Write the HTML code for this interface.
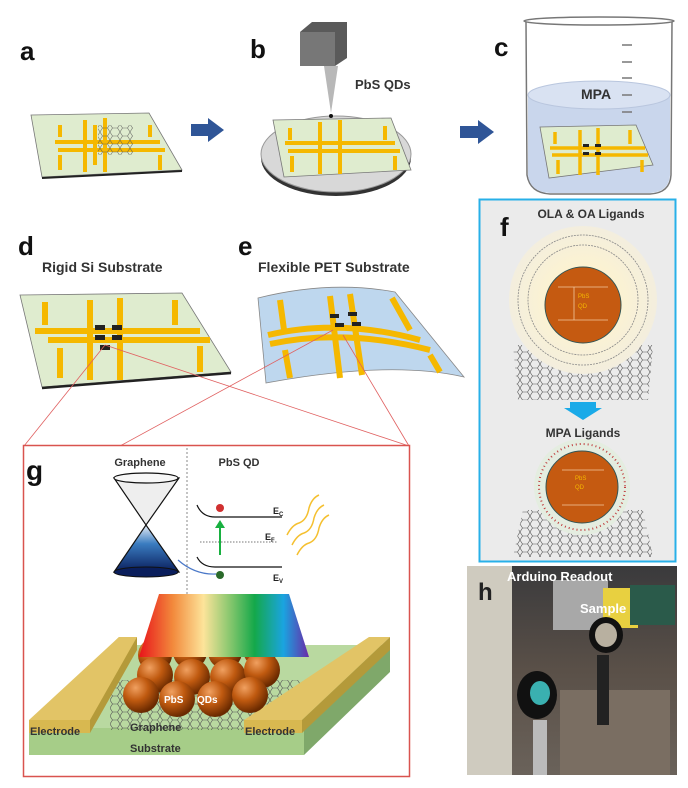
<!DOCTYPE html>
<html><head><meta charset="utf-8"><style>
html,body{margin:0;padding:0;background:#fff;}
svg{display:block;font-family:"Liberation Sans",sans-serif;}
</style></head><body>
<svg width="688" height="788" viewBox="0 0 688 788" xmlns="http://www.w3.org/2000/svg">
<defs>
<linearGradient id="rb" x1="0" x2="1"><stop offset="0" stop-color="#e8141a"/><stop offset="0.2" stop-color="#f28a3c"/><stop offset="0.38" stop-color="#fde49a"/><stop offset="0.55" stop-color="#7cc46a"/><stop offset="0.68" stop-color="#14a84a"/><stop offset="0.85" stop-color="#1aa4e0"/><stop offset="1" stop-color="#6a2aa8"/></linearGradient>
<linearGradient id="cone" x1="0" y1="0" x2="0" y2="1"><stop offset="0" stop-color="#e8eef6"/><stop offset="0.4" stop-color="#3a7cc0"/><stop offset="1" stop-color="#0a1e5c"/></linearGradient>
<radialGradient id="sph" cx="0.35" cy="0.3" r="0.7"><stop offset="0" stop-color="#f0a060"/><stop offset="0.5" stop-color="#c05a10"/><stop offset="1" stop-color="#6a2a00"/></radialGradient>
<radialGradient id="halo"><stop offset="0.4" stop-color="#fdf3d0"/><stop offset="1" stop-color="#f3eede"/></radialGradient>
<linearGradient id="photo" x1="0" y1="0" x2="0" y2="1"><stop offset="0" stop-color="#3a3a3c"/><stop offset="0.5" stop-color="#5a5048"/><stop offset="1" stop-color="#6a625a"/></linearGradient>
<pattern id="hex" width="10" height="8" patternUnits="userSpaceOnUse"><path d="M0,4 L2.5,0 L7.5,0 L10,4 L7.5,8 L2.5,8 Z" fill="none" stroke="#555" stroke-width="0.6"/></pattern>
<g id="elec" fill="#f5b800">
</g>
</defs>

<!-- labels -->
<g font-weight="bold" font-size="26" fill="#111">
<text x="20" y="60">a</text><text x="250" y="58">b</text><text x="494" y="56">c</text>
<text x="18" y="255">d</text><text x="238" y="255">e</text>
</g>

<!-- panel a -->
<polygon points="31,115 149,113 182,170 42,177" fill="#dfeccf" stroke="#777" stroke-width="0.8"/>
<line x1="42" y1="178" x2="182" y2="171" stroke="#222" stroke-width="2"/>
<g stroke="#f5b800" stroke-width="4" fill="none">
<path d="M55,142 H160 M58,150 H165"/>
<path d="M85,120 V172 M105,118 V172 M95,125 L95,165"/>
<path d="M60,125 V137 M150,125 V137 M60,155 V170 M160,155 V170"/>
</g>
<rect x="98" y="125" width="35" height="30" fill="url(#hex)" opacity="0.8"/>
<!-- arrows -->
<polygon points="191,124 208,124 208,118 224,130 208,142 208,136 191,136" fill="#2f5597"/>
<polygon points="460,126 478,126 478,120 494,132 478,144 478,138 460,138" fill="#2f5597"/>

<!-- panel b -->
<ellipse cx="336" cy="158" rx="75" ry="38" fill="#333"/>
<ellipse cx="336" cy="154" rx="75" ry="38" fill="#d8d8d8" stroke="#999"/>
<polygon points="273,120 391,118 411,170 284,177" fill="#dfeccf" stroke="#777" stroke-width="0.8"/>
<g stroke="#f5b800" stroke-width="4" fill="none">
<path d="M285,143 H395 M288,151 H400 M320,122 V174 M340,120 V174 M290,128 V140 M385,126 V140 M292,156 V172 M395,156 V170"/>
</g>
<polygon points="300,32 312,22 347,22 347,58 335,66 300,66" fill="#5a5a5a"/>
<polygon points="300,32 335,32 335,66 300,66" fill="#777"/>
<polygon points="324,66 338,66 331,113" fill="#b8b8b8"/>
<circle cx="331" cy="116" r="2" fill="#111"/>
<text x="355" y="89" font-size="13" font-weight="bold" fill="#333">PbS QDs</text>

<!-- panel c beaker -->
<path d="M526,22 L527,175 Q530,193 550,194 L650,194 Q670,193 671,175 L672,22" fill="none" stroke="#777" stroke-width="1.5"/>
<ellipse cx="599" cy="21" rx="75" ry="4" fill="none" stroke="#777" stroke-width="1.5"/>
<path d="M528,95 L528,175 Q530,192 550,193 L650,193 Q669,192 670,175 L670,95 Z" fill="#c9d6ec"/>
<ellipse cx="599" cy="95" rx="71" ry="14" fill="#d9e2f2" stroke="#b9c6de"/>
<g stroke="#777" stroke-width="1.5"><line x1="622" y1="45" x2="632" y2="45"/><line x1="622" y1="62" x2="632" y2="62"/><line x1="622" y1="78" x2="632" y2="78"/><line x1="622" y1="95" x2="632" y2="95"/><line x1="622" y1="112" x2="632" y2="112"/></g>
<text x="581" y="99" font-size="14" font-weight="bold" fill="#333">MPA</text>
<polygon points="540,127 636,125 653,165 549,178" fill="#dfeccf" stroke="#777" stroke-width="0.8"/>
<g stroke="#f5b800" stroke-width="3.5" fill="none"><path d="M550,148 H645 M552,155 H648 M580,130 V175 M598,128 V175 M555,132 V144 M630,130 V144 M558,160 V174 M642,160 V172"/></g>
<g fill="#222"><rect x="583" y="144" width="6" height="3"/><rect x="595" y="144" width="6" height="3"/><rect x="583" y="152" width="6" height="3"/><rect x="595" y="152" width="6" height="3"/></g>

<!-- d -->
<text x="42" y="272" font-size="14" font-weight="bold" fill="#333">Rigid Si Substrate</text>
<polygon points="20,295 182,293 231,372 42,387" fill="#dfeccf" stroke="#777" stroke-width="0.8"/>
<line x1="42" y1="388" x2="231" y2="373" stroke="#222" stroke-width="2.5"/>
<g stroke="#f5b800" stroke-width="6" fill="none">
<path d="M35,331 H200 M48,340 H210 M90,300 V380 M120,298 V380 M45,302 V325 M175,300 V325 M60,348 V378 M200,346 V372"/>
</g>
<g fill="#222"><rect x="95" y="325" width="10" height="5"/><rect x="112" y="325" width="10" height="5"/><rect x="95" y="335" width="10" height="5"/><rect x="112" y="335" width="10" height="5"/><rect x="100" y="345" width="10" height="5"/></g>

<!-- e -->
<text x="258" y="272" font-size="14" font-weight="bold" fill="#333">Flexible PET Substrate</text>
<path d="M258,298 Q330,280 395,292 L464,377 Q390,360 266,383 Z" fill="#bed7ee" stroke="#888" stroke-width="0.8"/>
<g stroke="#f5b800" stroke-width="6" fill="none">
<path d="M268,335 Q340,318 420,340 M270,344 Q345,328 430,350 M330,296 L340,378 M350,294 L362,375 M280,300 L284,330 M392,298 L410,330 M285,350 L290,378 M430,355 L440,372"/>
</g>
<g fill="#222"><rect x="330" y="314" width="9" height="4"/><rect x="348" y="312" width="9" height="4"/><rect x="335" y="323" width="9" height="4"/><rect x="352" y="322" width="9" height="4"/></g>

<!-- red zoom lines -->
<g stroke="#e06060" stroke-width="0.8">
<line x1="105" y1="345" x2="24" y2="446"/><line x1="105" y1="345" x2="409" y2="446"/>
<line x1="333" y1="330" x2="120" y2="446"/><line x1="343" y1="335" x2="409" y2="446"/>
</g>

<!-- g -->
<rect x="23.5" y="445.5" width="386" height="331" fill="#fff" stroke="#d9534f" stroke-width="1.5"/>
<text x="26" y="480" font-size="28" font-weight="bold" fill="#111">g</text>
<text x="140" y="466" font-size="11" font-weight="bold" fill="#333" text-anchor="middle">Graphene</text>
<text x="239" y="466" font-size="11" font-weight="bold" fill="#333" text-anchor="middle">PbS QD</text>
<line x1="187" y1="448" x2="187" y2="595" stroke="#888" stroke-dasharray="2,2"/>
<polygon points="114,478 179,478 146,525" fill="#eeeeee" stroke="#111" stroke-width="1.2"/>
<ellipse cx="146" cy="478" rx="32" ry="5" fill="#f7f7f7" stroke="#111" stroke-width="1.2"/>
<polygon points="146,525 114,572 179,572" fill="url(#cone)" stroke="#111" stroke-width="1.2"/>
<ellipse cx="146" cy="572" rx="32" ry="5" fill="#0a1e5c" stroke="#111"/>
<path d="M197,505 Q202,517 215,517 H282" fill="none" stroke="#111" stroke-width="1.2"/>
<path d="M197,557 Q202,567 215,567 H282" fill="none" stroke="#111" stroke-width="1.2"/>
<line x1="200" y1="542" x2="278" y2="542" stroke="#777" stroke-dasharray="1.5,1.5"/>
<circle cx="220" cy="508" r="4" fill="#d03030"/>
<circle cx="220" cy="575" r="4" fill="#2a6a2a"/>
<line x1="220" y1="555" x2="220" y2="526" stroke="#18b040" stroke-width="2"/>
<polygon points="215,528 225,528 220,520" fill="#18b040"/>
<path d="M216,574 Q195,575 178,560" fill="none" stroke="#4a78c8" stroke-width="1.2"/>
<g font-size="9" font-weight="bold" fill="#222"><text x="273" y="514">E<tspan font-size="6" dy="2">C</tspan></text><text x="265" y="540">E<tspan font-size="6" dy="2">F</tspan></text><text x="273" y="581">E<tspan font-size="6" dy="2">V</tspan></text></g>
<g fill="none" stroke="#f5c030" stroke-width="1.5"><path d="M287,535 q5,-10 12,-12 q8,-3 10,-15 q3,-10 10,-13"/><path d="M292,545 q5,-10 12,-12 q8,-3 10,-15 q3,-10 10,-13"/><path d="M297,555 q5,-10 12,-12 q8,-3 10,-15 q3,-10 10,-13"/></g>
<!-- substrate -->
<polygon points="29,728 304,728 390,645 119,645" fill="#b9d9a0"/>
<polygon points="29,728 304,728 304,755 29,755" fill="#a6cd88"/>
<polygon points="304,728 390,645 390,672 304,755" fill="#7fa86a"/>
<rect x="110" y="680" width="190" height="50" fill="url(#hex)"/>
<!-- electrodes -->
<polygon points="119,637 137,637 90,728 29,728 29,724 " fill="#dcbd5e"/>
<polygon points="119,637 137,637 90,720 29,720" fill="#e2c466"/>
<polygon points="90,720 137,637 137,650 90,733" fill="#b49a3a"/>
<rect x="29" y="720" width="61" height="13" fill="#d8b850"/>
<polygon points="369,637 390,637 302,720 244,720" fill="#e2c466"/>
<polygon points="302,720 390,637 390,650 302,733" fill="#b49a3a"/>
<rect x="244" y="720" width="58" height="13" fill="#d8b850"/>
<!-- spheres -->
<g fill="url(#sph)">
<circle cx="260" cy="650" r="17"/><circle cx="225" cy="652" r="17"/><circle cx="190" cy="652" r="17"/><circle cx="155" cy="655" r="17"/>
<circle cx="155" cy="675" r="18"/><circle cx="192" cy="677" r="18"/><circle cx="228" cy="677" r="18"/><circle cx="262" cy="670" r="18"/>
<circle cx="141" cy="695" r="18"/><circle cx="177" cy="699" r="18"/><circle cx="215" cy="699" r="18"/><circle cx="250" cy="695" r="18"/>
</g>
<text x="164" y="703" font-size="10" font-weight="bold" fill="#fff">PbS</text>
<text x="197" y="703" font-size="10" font-weight="bold" fill="#fff">QDs</text>
<polygon points="159,594 289,594 309,657 139,657" fill="url(#rb)"/>
<g font-size="11" font-weight="bold" fill="#333">
<text x="30" y="735">Electrode</text><text x="245" y="735">Electrode</text>
<text x="130" y="731">Graphene</text><text x="130" y="752">Substrate</text>
</g>

<!-- f -->
<rect x="479.5" y="199.5" width="196" height="362" fill="#ebebeb" stroke="#28b0e8" stroke-width="2"/>
<text x="500" y="236" font-size="26" font-weight="bold" fill="#111">f</text>
<text x="591" y="218" font-size="12" font-weight="bold" fill="#333" text-anchor="middle">OLA &amp; OA Ligands</text>
<polygon points="513,345 653,345 648,400 518,400" fill="url(#hex)"/>
<ellipse cx="583" cy="300" rx="74" ry="74" fill="url(#halo)"/>
<g stroke="#888" stroke-width="0.8" fill="none" stroke-dasharray="2,1">
<circle cx="583" cy="300" r="55"/><circle cx="583" cy="300" r="65"/>
</g>
<circle cx="583" cy="305" r="38" fill="#c55a11" stroke="#355" stroke-width="1"/>
<g stroke="#f0c8a0" stroke-width="0.8"><line x1="558" y1="287" x2="608" y2="287"/><line x1="558" y1="320" x2="608" y2="320"/><line x1="574" y1="287" x2="574" y2="320"/></g>
<text x="578" y="298" font-size="6" fill="#f5b800">PbS</text><text x="578" y="308" font-size="6" fill="#f5b800">QD</text>
<polygon points="570,402 596,402 596,408 602,408 583,420 564,408 570,408" fill="#1aaae8"/>
<text x="583" y="437" font-size="12" font-weight="bold" fill="#333" text-anchor="middle">MPA Ligands</text>
<polygon points="523,510 643,510 653,557 513,557" fill="url(#hex)"/>
<circle cx="582" cy="487" r="48" fill="#e4ede0"/>
<circle cx="582" cy="487" r="43" fill="none" stroke="#c04040" stroke-width="2" stroke-dasharray="1,3"/>
<circle cx="582" cy="487" r="36" fill="#c55a11" stroke="#355" stroke-width="1"/>
<g stroke="#f0c8a0" stroke-width="0.8"><line x1="562" y1="470" x2="604" y2="470"/><line x1="562" y1="505" x2="604" y2="505"/></g>
<text x="575" y="480" font-size="6" fill="#f5b800">PbS</text><text x="575" y="489" font-size="6" fill="#f5b800">QD</text>

<!-- h photo -->
<rect x="467" y="566" width="210" height="209" fill="url(#photo)"/>
<rect x="467" y="566" width="45" height="209" fill="#cfcbbf"/>
<rect x="553" y="580" width="55" height="50" fill="#a8a8a8"/>
<rect x="603" y="588" width="35" height="40" fill="#e8d040"/>
<rect x="630" y="585" width="45" height="40" fill="#2a5a4a"/>
<rect x="560" y="690" width="110" height="85" fill="#7a6e62"/>
<ellipse cx="537" cy="695" rx="20" ry="24" fill="#111"/><ellipse cx="540" cy="693" rx="10" ry="12" fill="#3ab0b0"/>
<ellipse cx="606" cy="635" rx="17" ry="18" fill="#111"/><ellipse cx="606" cy="635" rx="11" ry="12" fill="#b8b0a0"/>
<rect x="533" y="720" width="14" height="55" fill="#bbb"/><rect x="597" y="655" width="12" height="70" fill="#222"/>
<text x="478" y="600" font-size="24" font-weight="bold" fill="#222">h</text>
<text x="507" y="581" font-size="13" font-weight="bold" fill="#fff">Arduino Readout</text>
<text x="580" y="613" font-size="13" font-weight="bold" fill="#fff">Sample</text>
</svg>
</body></html>
